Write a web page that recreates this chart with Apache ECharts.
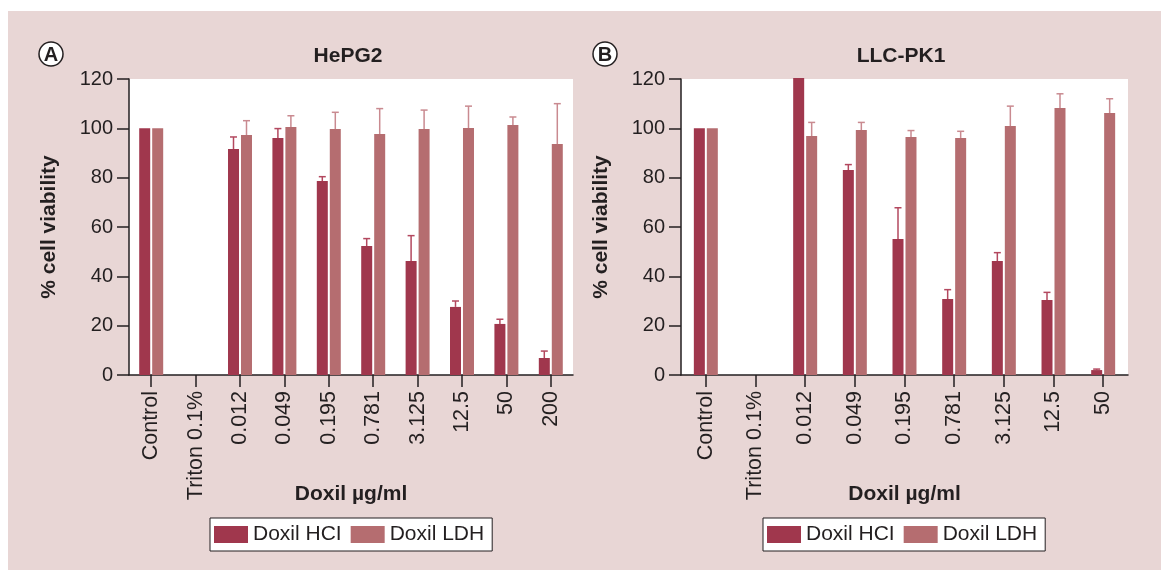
<!DOCTYPE html>
<html><head><meta charset="utf-8">
<script src="https://cdn.jsdelivr.net/npm/echarts@6/dist/echarts.min.js"></script>
<style>
html,body{margin:0;padding:0;background:#fff;}
#bg{position:absolute;left:8px;top:11px;width:1153px;height:559px;background:#e8d6d5;}
#c{position:absolute;left:0;top:0;width:1161px;height:570px;}
</style>
</head><body><div id="bg"></div><div id="c"></div>
<script>
// ---- data ----
const categoriesA = ['Control','Triton 0.1%','0.012','0.049','0.195','0.781','3.125','12.5','50','200'];
const categoriesB = ['Control','Triton 0.1%','0.012','0.049','0.195','0.781','3.125','12.5','50'];
const yTicks = [0,20,40,60,80,100,120];
const hclA   = [100, null, 91.6, 96.1, 78.6, 52.3, 46.2, 27.6, 20.7, 6.9];
const hclSdA = [0,   null, 4.9,  3.8,  1.8,  3.0,  10.3, 2.4,  1.9,  2.8];
const ldhA   = [100, null, 97.3, 100.5, 99.7, 97.7, 99.7, 100.1, 101.4, 93.6];
const ldhSdA = [0,   null, 5.8,  4.6,  6.8,  10.3, 7.7,  8.9,  3.2,  16.4];
const hclB   = [100, null, 120.4, 83.1, 55.1, 30.8, 46.2, 30.4, 2.0];
const hclSdB = [0,   null, 0,     2.2,  12.7, 3.8,  3.4,  3.1,  0.4];
const ldhB   = [100, null, 96.9,  99.3, 96.5, 96.1, 100.9, 108.2, 106.2];
const ldhSdB = [0,   null, 5.5,   3.1,  2.6,  2.7,  8.1,   5.8,   5.8];
const seriesNames = ['Doxil HCI','Doxil LDH'];

// ---- styles ----
const FONT = 'Liberation Sans, Arial, Helvetica, sans-serif';
const INK = '#231f20';
const C_HCL = '#a0374d', C_LDH = '#b56d70';
const E_HCL = '#b3485f', E_LDH = '#c98a90';

function errRender(offset, color){
  return function(params, api){
    const i = api.value(0), v = api.value(1), sd = api.value(2);
    const p0 = api.coord([i, v]);
    const p1 = api.coord([i, v + sd]);
    const x = p0[0] + offset;
    return {type:'group', children:[
      {type:'line', shape:{x1:x, y1:p0[1], x2:x, y2:p1[1]}, style:{stroke:color, lineWidth:1.5}},
      {type:'line', shape:{x1:x-3.5, y1:p1[1], x2:x+3.5, y2:p1[1]}, style:{stroke:color, lineWidth:1.5}}
    ]};
  };
}
function errData(vals, sds){
  const out = [];
  vals.forEach((v,i)=>{ if (v != null && sds[i] > 0) out.push([i, v, sds[i]]); });
  return out;
}

function xAxis(idx, cats){
  return {
    type:'category', gridIndex:idx, data:cats,
    axisLine:{show:true, lineStyle:{color:INK, width:1.5}},
    axisTick:{show:true, alignWithLabel:true, length:12, lineStyle:{color:INK, width:1.5}},
    axisLabel:{rotate:90, fontSize:21.5, color:INK, fontFamily:FONT, margin:16, interval:0},
    name:'Doxil µg/ml', nameLocation:'middle', nameGap:119, nameMoveOverlap:false,
    nameTextStyle:{fontSize:21, fontWeight:'bold', color:INK, fontFamily:FONT, verticalAlign:'middle'}
  };
}
function yAxis(idx){
  return {
    type:'value', gridIndex:idx, min:yTicks[0], max:yTicks[yTicks.length-1], interval:20,
    axisLine:{show:true, lineStyle:{color:INK, width:1.5}},
    axisTick:{show:true, length:12, lineStyle:{color:INK, width:1.5}},
    axisLabel:{fontSize:20, color:INK, fontFamily:FONT, margin:16},
    splitLine:{show:false},
    name:'% cell viability', nameLocation:'middle', nameGap:69,
    nameTextStyle:{fontSize:21, fontWeight:'bold', color:INK, fontFamily:FONT}
  };
}
function bar(name, idx, data, color){
  return {type:'bar', name, xAxisIndex:idx, yAxisIndex:idx, data, barWidth:11, barGap:'18%',
    itemStyle:{color}, clip:false, silent:true};
}
function err(idx, vals, sds, offset, color){
  return {type:'custom', xAxisIndex:idx, yAxisIndex:idx, data:errData(vals, sds),
    renderItem:errRender(offset, color), z:5, silent:true, clip:false};
}
function legend(left){
  return {left, top:518, orient:'horizontal', data:seriesNames, icon:'rect',
    itemWidth:34, itemHeight:17, itemGap:9, padding:[6,8,6,4],
    backgroundColor:'#fff', borderColor:INK, borderWidth:1, borderRadius:0,
    selectedMode:false,
    textStyle:{fontSize:21, color:INK, fontFamily:FONT, lineHeight:18}};
}
function circleLetter(cx, cy, letter){
  return {type:'group', children:[
    {type:'circle', shape:{cx, cy, r:12}, style:{fill:'#fff', stroke:INK, lineWidth:1.5}},
    {type:'text', x:cx, y:cy+1, style:{text:letter, fill:INK, font:'bold 20px '+FONT, textAlign:'center', textVerticalAlign:'middle'}}
  ]};
}

const chart = echarts.init(document.getElementById('c'), null, {renderer:'canvas'});
chart.setOption({
  animation:false,
  backgroundColor:'transparent',
  textStyle:{fontFamily:FONT},
  grid:[
    {left:129, top:79, width:444, height:296, show:true, backgroundColor:'#fff', borderWidth:0},
    {left:681, top:79, width:447, height:296, show:true, backgroundColor:'#fff', borderWidth:0}
  ],
  xAxis:[xAxis(0, categoriesA), xAxis(1, categoriesB)],
  yAxis:[yAxis(0), yAxis(1)],
  legend:[legend(210), legend(763)],
  graphic:[
    circleLetter(51, 54, 'A'),
    circleLetter(605, 54, 'B'),
    {type:'text', x:348, y:56, style:{text:'HePG2', fill:INK, font:'bold 21px '+FONT, textAlign:'center', textVerticalAlign:'middle'}},
    {type:'text', x:901, y:56, style:{text:'LLC-PK1', fill:INK, font:'bold 21px '+FONT, textAlign:'center', textVerticalAlign:'middle'}}
  ],
  series:[
    bar(seriesNames[0], 0, hclA, C_HCL),
    bar(seriesNames[1], 0, ldhA, C_LDH),
    bar(seriesNames[0], 1, hclB, C_HCL),
    bar(seriesNames[1], 1, ldhB, C_LDH),
    err(0, hclA, hclSdA, -6.5, E_HCL),
    err(0, ldhA, ldhSdA, 6.5, E_LDH),
    err(1, hclB, hclSdB, -6.5, E_HCL),
    err(1, ldhB, ldhSdB, 6.5, E_LDH)
  ]
});
</script>
</body></html>
